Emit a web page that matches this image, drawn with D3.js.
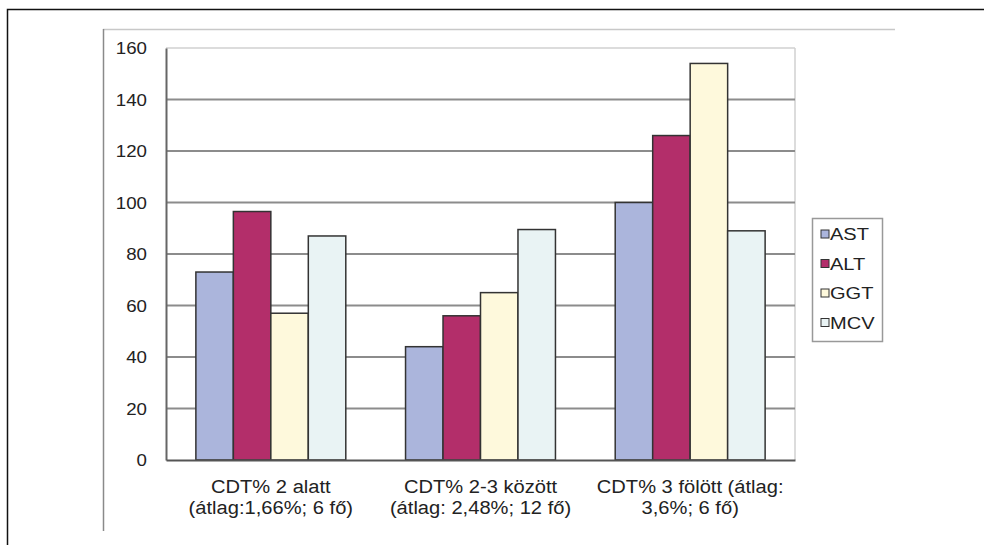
<!DOCTYPE html>
<html>
<head>
<meta charset="utf-8">
<script src="https://cdn.jsdelivr.net/npm/d3@7"></script>
<style>
  body { margin: 0; background: #fff; }
  text { font-family: "Liberation Sans", Arial, sans-serif; fill: #222; }
</style>
</head>
<body>
<svg id="chart" width="984" height="545"></svg>
<script>
// categories and series
var categories = [
	["CDT% 2 alatt", "(átlag:1,66%; 6 fő)"],
	["CDT% 2-3 között", "(átlag: 2,48%; 12 fő)"],
	["CDT% 3 fölött (átlag:", "3,6%; 6 fő)"]
];
var seriesNames = ["AST", "ALT", "GGT", "MCV"];
var seriesColors = ["#abb5dc", "#b32e6a", "#fef9dc", "#e9f3f4"];
var AST = [73, 44, 100];
var ALT = [96.5, 56, 126];
var GGT = [57, 65, 154];
var MCV = [87, 89.5, 89];
var yTicks = [0, 20, 40, 60, 80, 100, 120, 140, 160];

var values = [AST, ALT, GGT, MCV];
var svg = d3.select("#chart");

// text in the picture is a bit wider than plain Arial, so stretch it a little
function label(parent, x, y, str, size, stretch, anchor) {
	return parent.append("text")
		.attr("transform", "translate(" + x + "," + y + ") scale(" + stretch + ",1)")
		.attr("text-anchor", anchor || "start")
		.style("font-size", size + "px")
		.text(str);
}

// outer frame
svg.append("path").attr("d", "M7.5,545 L7.5,9.5 L984,9.5")
	.attr("fill", "none").attr("stroke", "#111").attr("stroke-width", 1.5);

// chart area border (top + left only visible)
svg.append("line").attr("x1", 103).attr("x2", 895).attr("y1", 29.5).attr("y2", 29.5)
	.attr("stroke", "#c8c8c8").attr("stroke-width", 1.5);
svg.append("line").attr("x1", 103.5).attr("x2", 103.5).attr("y1", 29).attr("y2", 531)
	.attr("stroke", "#8a8a8a").attr("stroke-width", 1.5);

var plotL = 166, plotR = 795, plotT = 48, plotB = 460;

var x = d3.scaleBand().domain(d3.range(categories.length))
	.range([plotL, plotR]).paddingInner(0.285).paddingOuter(0.1425);
var xs = d3.scaleBand().domain(seriesNames).range([0, x.bandwidth()]);
var y = d3.scaleLinear().domain([0, 160]).range([plotB, plotT]);

// plot area frame and grid
svg.append("line").attr("x1", plotL).attr("x2", plotR).attr("y1", plotT).attr("y2", plotT)
	.attr("stroke", "#d0d0d0").attr("stroke-width", 1.5);
svg.append("line").attr("x1", plotR).attr("x2", plotR).attr("y1", plotT).attr("y2", plotB)
	.attr("stroke", "#d0d0d0").attr("stroke-width", 1.5);

svg.append("g").selectAll("line").data(yTicks.filter(function(d) { return d > 0 && d < 160; }))
	.enter().append("line")
	.attr("x1", plotL).attr("x2", plotR)
	.attr("y1", function(d) { return y(d); }).attr("y2", function(d) { return y(d); })
	.attr("stroke", "#8c8c8c").attr("stroke-width", 2);

// bars
var groups = svg.append("g").selectAll("g").data(categories).enter().append("g")
	.attr("transform", function(d, i) { return "translate(" + x(i) + ",0)"; });
groups.selectAll("rect").data(function(d, i) {
	return seriesNames.map(function(s, k) { return { s: s, k: k, v: values[k][i] }; });
}).enter().append("rect")
	.attr("x", function(d) { return xs(d.s); })
	.attr("width", xs.bandwidth())
	.attr("y", function(d) { return y(d.v); })
	.attr("height", function(d) { return y(0) - y(d.v); })
	.attr("fill", function(d) { return seriesColors[d.k]; })
	.attr("stroke", "#333").attr("stroke-width", 1.5);

// axes (lines from d3, labels drawn stretched)
var yAxis = svg.append("g").attr("transform", "translate(" + plotL + ",0)")
	.call(d3.axisLeft(y).tickValues(yTicks).tickSize(0).tickFormat(""));
yAxis.select(".domain").attr("stroke", "#666").attr("stroke-width", 2);
var yLab = svg.append("g");
yTicks.forEach(function(t) {
	label(yLab, plotL - 19, y(t) + 6, String(t), 17, 1.1, "end");
});

var xAxis = svg.append("g").attr("transform", "translate(0," + plotB + ")")
	.call(d3.axisBottom(x).tickSize(0).tickFormat(""));
xAxis.select(".domain").attr("stroke", "#555").attr("stroke-width", 2);

var xLab = svg.append("g");
categories.forEach(function(c, i) {
	var cx = x(i) + x.bandwidth() / 2;
	label(xLab, cx, plotB + 33, c[0], 19, 1.06, "middle");
	label(xLab, cx, plotB + 54, c[1], 19, 1.06, "middle");
});

// legend
var leg = svg.append("g");
leg.append("rect").attr("x", 812.5).attr("y", 218.5).attr("width", 70).attr("height", 123)
	.attr("fill", "#fff").attr("stroke", "#999").attr("stroke-width", 1.5);
seriesNames.forEach(function(s, i) {
	var cy = 234 + i * 29.5;
	leg.append("rect").attr("x", 821).attr("y", cy - 4).attr("width", 8).attr("height", 8)
		.attr("fill", seriesColors[i]).attr("stroke", "#333").attr("stroke-width", 1);
	label(leg, 830, cy + 6, s, 17, 1.18, "start");
});
</script>
</body>
</html>
